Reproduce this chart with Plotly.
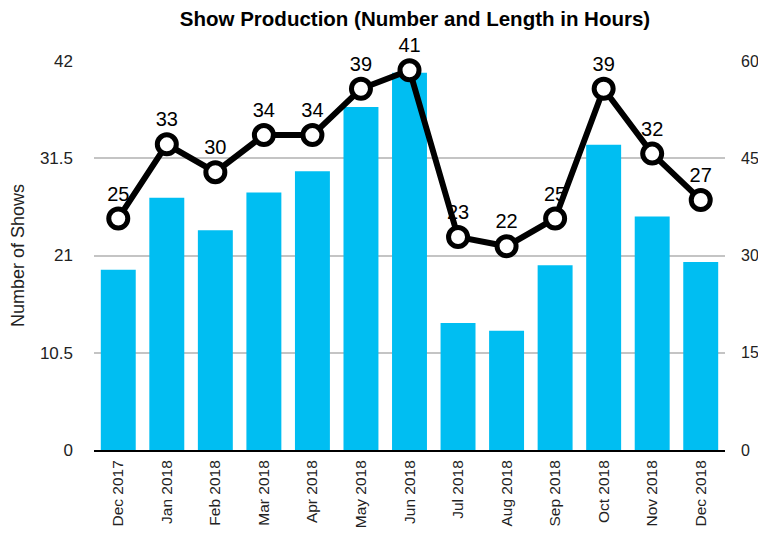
import plotly.graph_objects as go

months = ["Dec 2017", "Jan 2018", "Feb 2018", "Mar 2018", "Apr 2018", "May 2018", "Jun 2018",
          "Jul 2018", "Aug 2018", "Sep 2018", "Oct 2018", "Nov 2018", "Dec 2018"]
shows = [25, 33, 30, 34, 34, 39, 41, 23, 22, 25, 39, 32, 27]
hours = [27.8, 38.9, 33.9, 39.7, 43.0, 52.9, 58.2, 19.6, 18.4, 28.5, 47.1, 36.0, 29.0]
left_ticks = [0, 10.5, 21, 31.5, 42]
right_ticks = [0, 15, 30, 45, 60]

FONT = "Liberation Sans, Arial, Helvetica, sans-serif"

fig = go.Figure()
fig.add_trace(go.Bar(
    x=months, y=hours, yaxis="y", marker=dict(color="#00BEF2", line=dict(width=0)),
    name="Length in Hours", hoverinfo="y"))
fig.add_trace(go.Scatter(
    x=months, y=shows, yaxis="y2", mode="lines+markers+text",
    text=[str(v) for v in shows], textposition="top center",
    textfont=dict(size=20, color="#000000", family=FONT),
    line=dict(color="#000000", width=6),
    marker=dict(size=19, color="#FFFFFF", line=dict(color="#000000", width=5)),
    name="Number of Shows", cliponaxis=False))

fig.update_layout(
    width=750, height=522,
    margin=dict(l=86, r=33, t=53, b=80, autoexpand=False),
    paper_bgcolor="white", plot_bgcolor="white",
    showlegend=False, bargap=0.28,
    font=dict(family=FONT, color="#222222", size=17),
    title=dict(text="<b>Show Production (Number and Length in Hours)</b>",
               x=(415 - 8) / 750, xanchor="center", y=1 - 11 / 522, yanchor="middle",
               automargin=False,
               font=dict(size=20.5, color="#000000", family=FONT)),
    xaxis=dict(tickangle=-90, tickfont=dict(size=15.5, color="#222222"),
               range=[-0.5, 12.5],
               showgrid=False, showline=True, linecolor="#000000", linewidth=2,
               ticks="", automargin=False, ticklabelstandoff=2),
    yaxis=dict(side="right", range=[0, 60], tickvals=right_ticks,
               ticktext=[str(v) for v in right_ticks],
               showgrid=False, zeroline=False, showline=False, automargin=False,
               tickfont=dict(size=16, color="#222222"), ticklabelstandoff=15),
    yaxis2=dict(side="left", overlaying="y", range=[0, 42], tickvals=left_ticks,
                ticktext=["0", "10.5", "21", "31.5", "42"],
                showgrid=True, gridcolor="#C4C4C4", gridwidth=2, zeroline=False,
                automargin=False,
                tickfont=dict(size=17, color="#222222"), ticklabelstandoff=20,
                title=dict(text="Number of Shows", font=dict(size=18, color="#222222"), standoff=12)),
)

fig.write_html("out.html")
